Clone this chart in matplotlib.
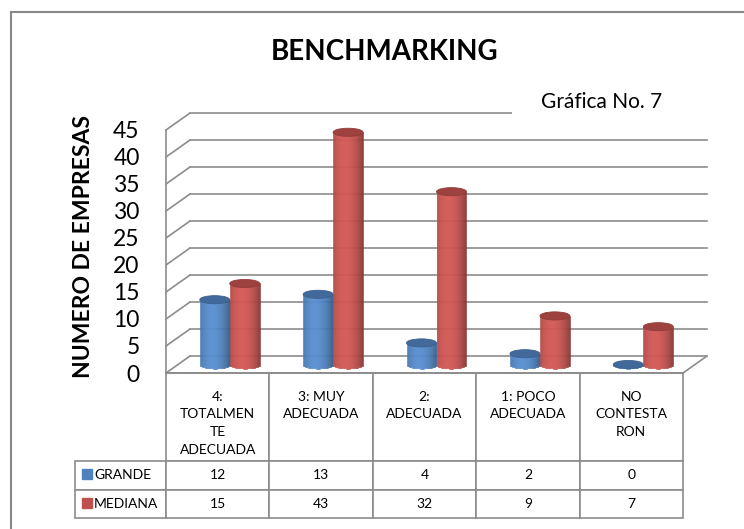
import numpy as np
import matplotlib
matplotlib.use('Agg')
import matplotlib.pyplot as plt
from matplotlib.patches import Ellipse, ConnectionPatch, Rectangle
from matplotlib.transforms import offset_copy
from matplotlib.lines import Line2D
from matplotlib.table import Table

plt.rcParams['font.family'] = ['Lato', 'DejaVu Sans']

# ---------------- data ----------------
categories = ["4:\nTOTALMEN\nTE\nADECUADA", "3: MUY\nADECUADA", "2:\nADECUADA",
              "1: POCO\nADECUADA", "NO\nCONTESTA\nRON"]
series_names = ["GRANDE", "MEDIANA"]
grande = [12, 13, 4, 2, 0]
mediana = [15, 43, 32, 9, 7]
yticks = [0, 5, 10, 15, 20, 25, 30, 35, 40, 45]
title = "BENCHMARKING"
subtitle = "Gráfica No. 7"
ylabel = "NUMERO DE EMPRESAS"

# ---------------- style ----------------
W, H = 744, 529
GC = '#8c8c8c'
LW = 1.2
colors = [(79/255, 129/255, 189/255), (192/255, 80/255, 77/255)]
DX, DY = 24, 17          # depth of the 3D box in pixels

fig = plt.figure(figsize=(W/100, H/100), dpi=100)
x0, x1 = 166, 683
ytop, ybot = 130, 373
AW, AH = x1 - x0, ybot - ytop
ax = fig.add_axes([x0/W, 1 - ybot/H, AW/W, AH/H])
ax.set_xlim(-0.5, len(categories) - 0.5)
ax.set_ylim(0, 45)
ax.set_autoscale_on(False)
for s in ax.spines.values():
    s.set_visible(False)
ax.patch.set_visible(False)
ax.set_xticks([])
ax.set_yticks(yticks)
ax.tick_params(axis='y', length=0, pad=19, labelsize=16.5)

back = offset_copy(ax.transData, fig=fig, x=DX, y=DY, units='dots')
mid = offset_copy(ax.transData, fig=fig, x=DX/2, y=DY/2, units='dots')
xl, xr = -0.5, len(categories) - 0.5

# gridlines (back wall + left side wall diagonals)
for v in yticks:
    ax.plot([xl, xr], [v, v], transform=back, color=GC, lw=LW, clip_on=False, zorder=1)
    ax.add_artist(ConnectionPatch((xl, v), (xl, v), coordsA=ax.transData, coordsB=back,
                                  color=GC, lw=LW, zorder=1))
# front left edge and floor
ax.plot([xl, xl], [0, yticks[-1]], color=GC, lw=LW, clip_on=False, zorder=1)
ax.plot([xl, xr], [0, 0], color=GC, lw=LW, clip_on=False, zorder=1)
ax.add_artist(ConnectionPatch((xr, 0), (xr, 0), coordsA=ax.transData, coordsB=back,
                              color=GC, lw=LW, zorder=1))

# cylinders
bw = 0.29
offs = [-0.145, 0.145]
eh = 1.5   # ellipse height in data units
N = 30

def shade(base, u):
    f = 0.70 + 0.40 * (1 - ((u + 0.2) / 1.2) ** 2)
    return tuple(min(1.0, c * f) for c in base)

z = 5
for i in range(len(categories)):
    for s, vals in enumerate([grande, mediana]):
        v = vals[i]
        cx = i + offs[s]
        edges = np.linspace(-1, 1, N + 1)
        for k in range(N):
            u = 0.5 * (edges[k] + edges[k + 1])
            bottom = -(eh / 2) * np.sqrt(max(0.0, 1 - u ** 2))
            col = shade(colors[s], u)
            ax.bar(cx + u * bw / 2, v - bottom, width=bw / N, bottom=bottom,
                   color=col, edgecolor=col, linewidth=0.4, transform=mid,
                   clip_on=False, zorder=z)
        topc = tuple(c * 0.82 for c in colors[s])
        ax.add_patch(Ellipse((cx, v), bw, eh, transform=mid, facecolor=topc,
                             edgecolor=tuple(c * 0.75 for c in colors[s]), lw=0.6,
                             clip_on=False, zorder=z + 0.5))
        z += 1

# data table
hdr_h = 88 / AH
row_h = 28.5 / AH
col_w = 1.0 / len(categories)
lab_w = 91 / AW
tbl = Table(ax, bbox=[0, -(hdr_h + 2 * row_h), 1, hdr_h + 2 * row_h])
tbl.auto_set_font_size(False)
for j in range(len(categories)):
    tbl.add_cell(0, j, width=col_w, height=hdr_h, text='', loc='center')
for r, (name, vals) in enumerate(zip(series_names, [grande, mediana]), start=1):
    c = tbl.add_cell(r, -1, width=lab_w, height=row_h, text=name, loc='left')
    c.PAD = 0.21
    for j, v in enumerate(vals):
        tbl.add_cell(r, j, width=col_w, height=row_h, text=str(v), loc='center')
for (r, c), cell in tbl.get_celld().items():
    cell.set_edgecolor(GC)
    cell.set_linewidth(LW)
    cell.get_text().set_fontsize(10)
    cell.get_text().set_fontfamily(['Lato', 'DejaVu Sans'])
tbl.set_clip_on(False)
ax.add_table(tbl)

for i, lab in enumerate(categories):
    ax.text(i, -(391 - ybot)/AH, lab, transform=ax.get_xaxis_transform(),
            ha='center', va='top', fontsize=10, linespacing=1.55, multialignment='center')

for s, name in enumerate(series_names):
    ax.plot([(86.5 - x0)/AW], [-((474 + 29 * s) - ybot)/AH],
            marker='s', markersize=6.5, color=colors[s], transform=ax.transAxes,
            clip_on=False, zorder=20, linestyle='none')

# subtitle box covering gridlines
fig.patches.append(Rectangle((512/W, 1 - 136/H), (W - 512)/W, 70/H,
                             transform=fig.transFigure, facecolor='white',
                             edgecolor='none', zorder=2))
fig.text(602/W, 1 - 102/H, subtitle, ha='center', va='center', fontsize=15, zorder=3)

fig.text(385/W, 1 - 52/H, title, ha='center', va='center', fontsize=20,
         fontweight='bold')
fig.text(84/W, 1 - 247/H, ylabel, ha='center', va='center', fontsize=16.5,
         fontweight='bold', rotation=90)

# outer border (left & top)
fig.lines.append(Line2D([11/W, 1], [1 - 12/H, 1 - 12/H], transform=fig.transFigure,
                        color='#888888', lw=1.5))
fig.lines.append(Line2D([11/W, 11/W], [0, 1 - 12/H], transform=fig.transFigure,
                        color='#888888', lw=1.5))

fig.savefig('out.png', dpi=100)
